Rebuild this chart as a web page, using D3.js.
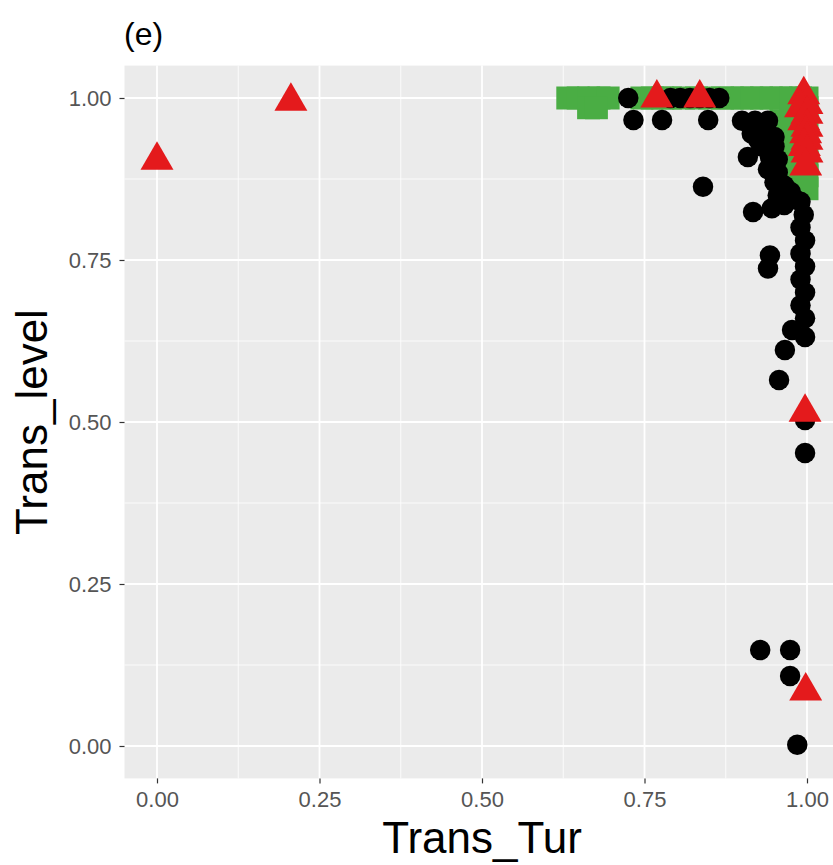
<!DOCTYPE html>
<html>
<head>
<meta charset="utf-8">
<script src="https://cdn.jsdelivr.net/npm/d3@7"></script>
<style>
  body { margin: 0; background: #fff; }
  svg { display: block; font-family: "Liberation Sans", Arial, sans-serif; }
</style>
</head>
<body>
<svg id="chart" width="833" height="865"></svg>
<script>
// Datos (e)
const squareTur = [0.632, 0.648, 0.664, 0.68, 0.694, 0.746, 0.762, 0.778, 0.79, 0.81, 0.83, 0.85, 0.87, 0.885, 0.90, 0.915, 0.93, 0.945, 0.96, 0.975, 0.99, 1.0,
  0.664, 0.676, 0.96, 0.975, 0.975, 0.975, 0.975, 0.975, 1.0, 1.0, 1.0, 1.0, 1.0, 1.0, 0.99];
const squareLevel = [1, 1, 1, 1, 1, 1, 1, 1, 1, 1, 1, 1, 1, 1, 1, 1, 1, 1, 1, 1, 1, 1,
  0.985, 0.985, 0.965, 0.975, 0.955, 0.935, 0.915, 0.895, 0.985, 0.96, 0.93, 0.9, 0.88, 0.86, 0.87];

const circleTur = [0.725, 0.79, 0.805, 0.82, 0.835, 0.85, 0.865,
  0.733, 0.777, 0.848, 0.90, 0.92, 0.94,
  0.915, 0.935, 0.95, 0.93, 0.95, 0.925, 0.94,
  0.909, 0.943, 0.955, 0.94, 0.955, 0.95, 0.955, 0.962, 0.965, 0.975,
  0.84, 0.917, 0.946, 0.965,
  0.98, 0.99, 0.995, 0.99, 0.997, 0.99, 0.997, 0.99, 0.997, 0.99, 0.997, 0.997,
  0.943, 0.94, 0.977, 0.966, 0.957,
  0.997, 0.997, 0.928, 0.974, 0.974, 0.985];
const circleLevel = [1, 1, 1, 1, 1, 1, 1,
  0.966, 0.966, 0.966, 0.965, 0.965, 0.965,
  0.945, 0.945, 0.94, 0.925, 0.925, 0.935, 0.92,
  0.909, 0.909, 0.905, 0.89, 0.885, 0.87, 0.85, 0.845, 0.865, 0.855,
  0.863, 0.824, 0.83, 0.835,
  0.845, 0.84, 0.82, 0.80, 0.78, 0.76, 0.74, 0.72, 0.70, 0.68, 0.66, 0.631,
  0.757, 0.737, 0.642, 0.611, 0.565,
  0.503, 0.452, 0.148, 0.148, 0.108, 0.002];

const triangleTur = [0, 0.206, 0.769, 0.835,
  0.995, 1.0, 0.99, 1.0, 0.995, 1.0, 0.998, 1.0, 0.996, 1.0, 0.998, 0.997, 0.998];
const triangleLevel = [0.904, 0.995, 1.0, 1.0,
  1.005, 0.99, 0.985, 0.975, 0.965, 0.955, 0.945, 0.935, 0.925, 0.915, 0.895, 0.515, 0.085];

const majorTicks = [0, 0.25, 0.5, 0.75, 1];
const minorTicks = [0.125, 0.375, 0.625, 0.875];

const svg = d3.select('#chart');
const panel = { left: 124.5, right: 839.5, top: 65.6, bottom: 778.4 };

const x = d3.scaleLinear().domain([-0.05, 1.05]).range([panel.left, panel.right]);
const y = d3.scaleLinear().domain([-0.05, 1.05]).range([panel.bottom, panel.top]);

svg.append('rect')
  .attr('x', panel.left)
  .attr('y', panel.top)
  .attr('width', panel.right - panel.left)
  .attr('height', panel.bottom - panel.top)
  .attr('fill', '#ebebeb');

// rejilla
const grid = svg.append('g').attr('stroke', '#fff');
grid.selectAll('.vminor').data(minorTicks).enter().append('line')
  .attr('x1', d => x(d)).attr('x2', d => x(d))
  .attr('y1', panel.top).attr('y2', panel.bottom)
  .attr('stroke-width', 0.8);
grid.selectAll('.hminor').data(minorTicks).enter().append('line')
  .attr('y1', d => y(d)).attr('y2', d => y(d))
  .attr('x1', panel.left).attr('x2', panel.right)
  .attr('stroke-width', 0.8);
grid.selectAll('.vmajor').data(majorTicks).enter().append('line')
  .attr('x1', d => x(d)).attr('x2', d => x(d))
  .attr('y1', panel.top).attr('y2', panel.bottom)
  .attr('stroke-width', 1.8);
grid.selectAll('.hmajor').data(majorTicks).enter().append('line')
  .attr('y1', d => y(d)).attr('y2', d => y(d))
  .attr('x1', panel.left).attr('x2', panel.right)
  .attr('stroke-width', 1.8);

// puntos
const squares = squareTur.map((v, i) => ({ x: v, y: squareLevel[i] }));
const circles = circleTur.map((v, i) => ({ x: v, y: circleLevel[i] }));
const triangles = triangleTur.map((v, i) => ({ x: v, y: triangleLevel[i] }));

svg.append('g').selectAll('path').data(squares).enter().append('path')
  .attr('d', d3.symbol(d3.symbolSquare).size(529))
  .attr('transform', d => `translate(${x(d.x)},${y(d.y)})`)
  .attr('fill', '#4aad44');

svg.append('g').selectAll('path').data(circles).enter().append('path')
  .attr('d', d3.symbol(d3.symbolCircle).size(330))
  .attr('transform', d => `translate(${x(d.x)},${y(d.y)})`)
  .attr('fill', '#000');

svg.append('g').selectAll('path').data(triangles).enter().append('path')
  .attr('d', d3.symbol(d3.symbolTriangle).size(470))
  .attr('transform', d => `translate(${x(d.x)},${y(d.y)})`)
  .attr('fill', '#e41a1c');

// ejes
const xAxis = svg.append('g')
  .attr('transform', `translate(0,${panel.bottom})`)
  .call(d3.axisBottom(x).tickValues(majorTicks).tickFormat(d3.format('.2f')).tickSize(5).tickPadding(8));
const yAxis = svg.append('g')
  .attr('transform', `translate(${panel.left},0)`)
  .call(d3.axisLeft(y).tickValues(majorTicks).tickFormat(d3.format('.2f')).tickSize(5).tickPadding(8));

[xAxis, yAxis].forEach(a => {
  a.select('.domain').remove();
  a.selectAll('.tick line').attr('stroke', '#333').attr('stroke-width', 1.2);
  a.selectAll('.tick text')
    .attr('fill', '#555')
    .style('font-size', '22px')
    .style('font-family', '"Liberation Sans", Arial, sans-serif');
});
yAxis.selectAll('.tick text').attr('dy', '0.36em');

svg.append('text')
  .attr('x', (panel.left + panel.right) / 2)
  .attr('y', 853)
  .attr('text-anchor', 'middle')
  .style('font-size', '44px')
  .attr('fill', '#000')
  .text('Trans_Tur');

svg.append('text')
  .attr('transform', `translate(47,${(panel.top + panel.bottom) / 2}) rotate(-90)`)
  .attr('text-anchor', 'middle')
  .style('font-size', '44px')
  .attr('fill', '#000')
  .text('Trans_level');

svg.append('text')
  .attr('x', 124)
  .attr('y', 45)
  .style('font-size', '32px')
  .attr('fill', '#000')
  .text('(e)');
</script>
</body>
</html>
